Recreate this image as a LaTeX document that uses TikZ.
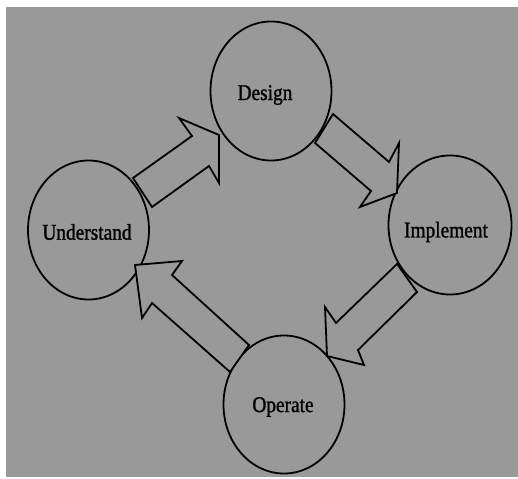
\documentclass[tikz,border=0pt]{standalone}
\usepackage{fontspec}
\setmainfont{Liberation Serif}[FakeStretch=0.86,FakeBold=1.2]
\usetikzlibrary{shapes.geometric}
\definecolor{bggray}{RGB}{153,153,153}
\tikzset{
  stage/.style={draw=black, line width=1.8pt, fill=bggray, ellipse, inner sep=0pt,
    minimum width=121pt, minimum height=139pt},
  label/.style={font=\fontsize{22.5}{25}\selectfont, text=black, inner sep=0pt},
  blockarrow/.style={draw=black, line width=1.8pt, fill=bggray, line join=miter}
}
\begin{document}
\begin{tikzpicture}[x=1pt,y=-1pt]
\useasboundingbox (0,0) rectangle (518,478);
\fill[white] (0,0) rectangle (518,478);
\fill[bggray] (6,7) rectangle (518,477);

\node[stage] (design) at (271,91) {};
\node[stage] (understand) at (88.5,230) {};
\node[stage, minimum width=123pt] (implement) at (450,225) {};
\node[stage, minimum height=138pt] (operate) at (284,404.5) {};

\node[label] (tdesign) at (265,95) {Design};
\node[label] (tunderstand) at (87,232) {Understand};
\node[label] (timplement) at (446,232) {Implement};
\node[label] (toperate) at (283,407) {Operate};

% Understand -> Design
\draw[blockarrow] (133,178) -- (192,136) -- (179,118) -- (219,135) -- (219,183) -- (209,166) -- (152,207) -- cycle;
% Design -> Implement
\draw[blockarrow] (333,114) -- (389,162) -- (399,143) -- (397,193) -- (360,207) -- (371,191) -- (315,143) -- cycle;
% Implement -> Operate
\draw[blockarrow] (397,264) -- (336,323) -- (325,307) -- (327,356) -- (364,365) -- (358,350) -- (417,292) -- cycle;
% Operate -> Understand
\draw[blockarrow] (249,345) -- (172,275) -- (182,261) -- (135,265) -- (142,318) -- (152,303) -- (230,372) -- cycle;
\end{tikzpicture}
\end{document}
